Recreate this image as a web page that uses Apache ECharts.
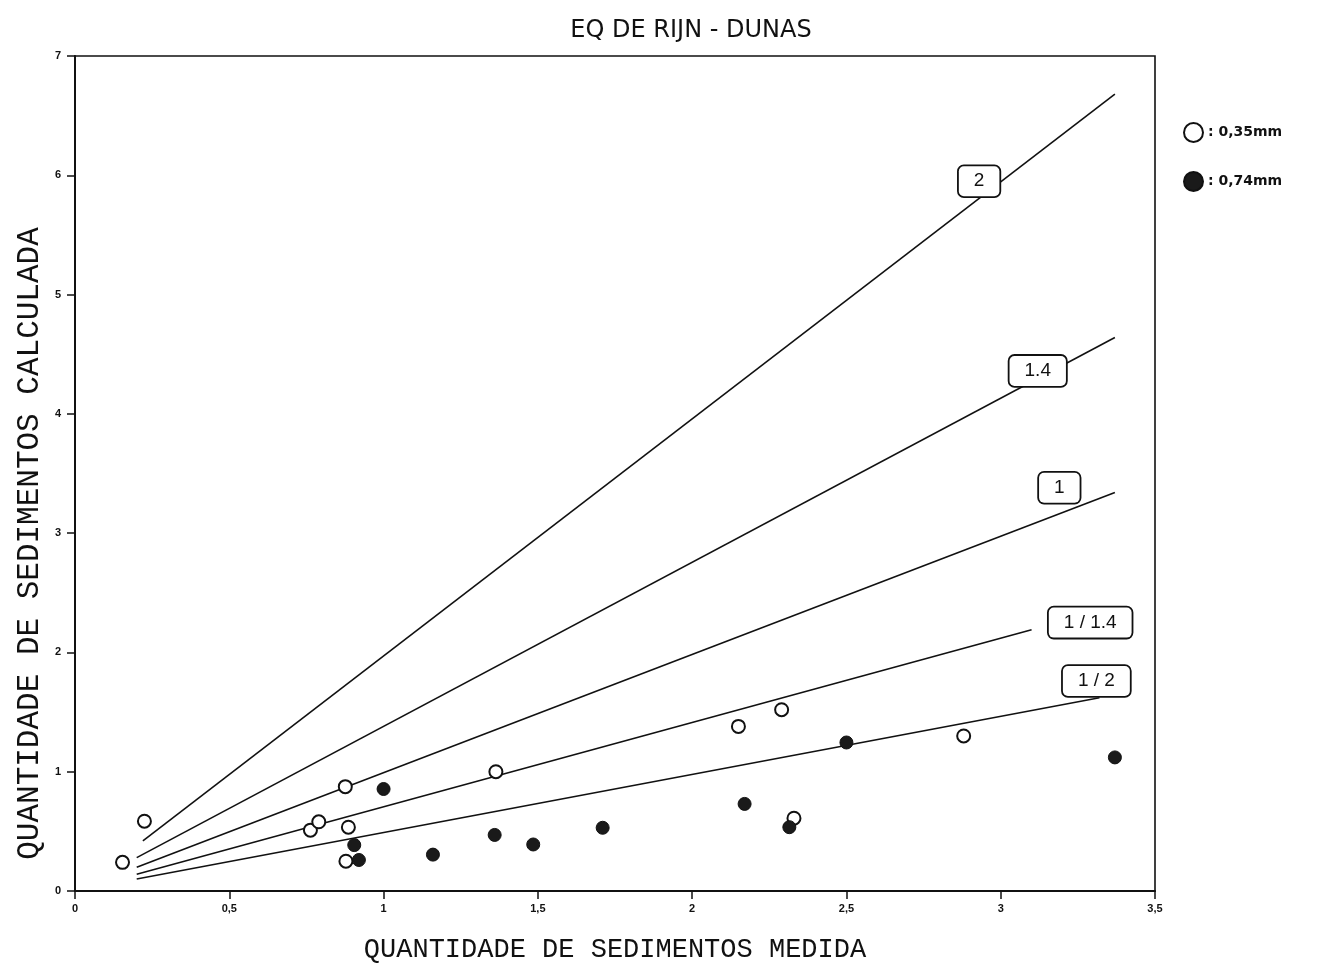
<!DOCTYPE html>
<html>
<head>
<meta charset="utf-8">
<script src="https://cdn.jsdelivr.net/npm/echarts@6/dist/echarts.min.js"></script>
<style>
html,body{margin:0;padding:0;background:#fff;}
#chart{width:1323px;height:968px;}
</style>
</head>
<body>
<div id="chart"></div>
<script>
// ---- data ----
const titleText = 'EQ DE RIJN - DUNAS';
const xAxisName = 'QUANTIDADE DE SEDIMENTOS MEDIDA';
const yAxisName = 'QUANTIDADE DE SEDIMENTOS CALCULADA';
const xTickLabels = ['0', '0,5', '1', '1,5', '2', '2,5', '3', '3,5'];
const yTickLabels = ['0', '1', '2', '3', '4', '5', '6', '7'];
const seriesNames = ['0,35mm', '0,74mm'];

// open circles : 0,35 mm
const fine = [
  [0.154, 0.24], [0.225, 0.585], [0.763, 0.51], [0.79, 0.58],
  [0.876, 0.875], [0.886, 0.535], [0.878, 0.25], [1.364, 1.0],
  [2.15, 1.38], [2.29, 1.52], [2.33, 0.61], [2.88, 1.30]
];
// filled circles : 0,74 mm
const coarse = [
  [1.0, 0.855], [0.905, 0.385], [0.92, 0.26], [1.16, 0.305],
  [1.36, 0.47], [1.485, 0.39], [1.71, 0.53], [2.17, 0.73],
  [2.315, 0.535], [2.5, 1.245], [3.37, 1.12]
];

// reference ratio lines (endpoints)
const ratioNames = ['2', '1.4', '1', '1/1.4', '1/2'];
const line2    = [[0.22, 0.42], [3.37, 6.68]];
const line14   = [[0.20, 0.28], [3.37, 4.64]];
const line1    = [[0.20, 0.20], [3.37, 3.34]];
const line114  = [[0.20, 0.14], [3.10, 2.19]];
const line12   = [[0.20, 0.10], [3.32, 1.62]];
const ratioLines = [line2, line14, line1, line114, line12];
// where each ratio tag sits (data units)
const ratioTagAt = [[2.93, 5.95], [3.12, 4.36], [3.19, 3.38], [3.29, 2.25], [3.31, 1.76]];

// ---- chart ----
const chart = echarts.init(document.getElementById('chart'), null, {renderer: 'canvas'});

const tickFont = {color: '#111', fontFamily: 'Liberation Sans, Arial, sans-serif', fontWeight: 'bold', fontSize: 11};
const nameFont = {color: '#111', fontFamily: 'Liberation Mono, Courier New, monospace', fontSize: 27};

const lineSeries = ratioLines.map((pts, i) => ({
  type: 'line',
  name: 'ratio ' + ratioNames[i],
  data: pts,
  symbol: 'none',
  silent: true,
  z: 2,
  lineStyle: {color: '#111', width: 1.6},
  markPoint: {
    symbol: 'rect',
    symbolSize: 0,
    silent: true,
    z: 5,
    data: [{coord: ratioTagAt[i], value: ratioNames[i]}],
    label: {
      show: true,
      position: 'inside',
      formatter: ratioNames[i].replace('/', ' / '),
      color: '#111',
      fontFamily: 'Liberation Sans, Arial, sans-serif',
      fontSize: 19,
      backgroundColor: '#fff',
      borderColor: '#111',
      borderWidth: 1.8,
      borderRadius: 5,
      padding: [6, 15, 5, 15]
    }
  }
}));

chart.setOption({
  animation: false,
  backgroundColor: '#fff',
  title: {
    text: titleText,
    left: 686,
    top: 14,
    textAlign: 'center',
    textStyle: {color: '#111', fontFamily: 'DejaVu Sans, Liberation Sans, sans-serif', fontWeight: 'normal', fontSize: 24}
  },
  legend: {
    orient: 'vertical',
    left: 1178,
    top: 117,
    itemGap: 28,
    itemWidth: 19,
    itemHeight: 19,
    data: [
      {name: seriesNames[0], icon: 'circle'},
      {name: seriesNames[1], icon: 'circle'}
    ],
    formatter: n => ': ' + n,
    textStyle: {color: '#111', fontFamily: 'DejaVu Sans, Liberation Sans, sans-serif', fontWeight: 'bold', fontSize: 14}
  },
  grid: {
    left: 75, top: 56, width: 1080, height: 835,
    show: true, borderColor: '#111', borderWidth: 1.6, backgroundColor: 'transparent'
  },
  xAxis: {
    type: 'value',
    min: 0, max: 3.5, interval: 0.5,
    name: xAxisName,
    nameLocation: 'middle',
    nameGap: 45,
    nameMoveOverlap: false,
    nameTextStyle: nameFont,
    axisLine: {show: true, onZero: false, lineStyle: {color: '#111', width: 2}},
    axisTick: {show: true, inside: false, length: 8, lineStyle: {color: '#111', width: 1.5}},
    axisLabel: {
      margin: 12,
      formatter: (v) => xTickLabels[Math.round(v / 0.5)],
      ...tickFont
    },
    splitLine: {show: false}
  },
  yAxis: {
    type: 'value',
    min: 0, max: 7, interval: 1,
    name: yAxisName,
    nameLocation: 'middle',
    nameGap: 30,
    nameMoveOverlap: false,
    nameTextStyle: Object.assign({}, nameFont, {fontSize: 31, padding: [0, 140, 0, 0]}),
    axisLine: {show: true, onZero: false, lineStyle: {color: '#111', width: 2}},
    axisTick: {show: true, inside: false, length: 8, lineStyle: {color: '#111', width: 1.5}},
    axisLabel: {
      margin: 14,
      formatter: (v) => yTickLabels[Math.round(v)],
      ...tickFont
    },
    splitLine: {show: false}
  },
  series: [
    ...lineSeries,
    {
      type: 'scatter',
      name: seriesNames[0],
      data: fine,
      symbol: 'circle',
      symbolSize: 13,
      z: 4,
      itemStyle: {color: '#fff', borderColor: '#111', borderWidth: 2, opacity: 1}
    },
    {
      type: 'scatter',
      name: seriesNames[1],
      data: coarse,
      symbol: 'circle',
      symbolSize: 13,
      z: 4,
      itemStyle: {color: '#1a1a1a', borderColor: '#111', borderWidth: 1, opacity: 1}
    }
  ]
});
</script>
</body>
</html>
